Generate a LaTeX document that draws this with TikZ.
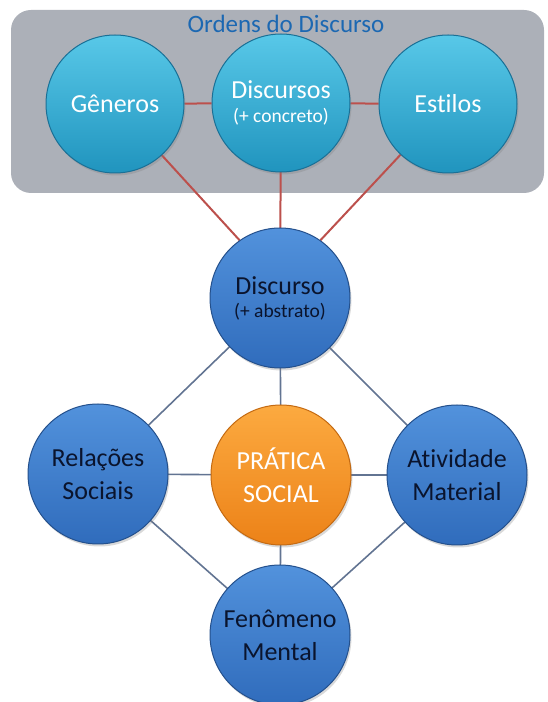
\documentclass[tikz,border=0pt]{standalone}
\usepackage{fontspec}
\setmainfont{Carlito}[Ligatures=NoCommon]
\usetikzlibrary{shadows}
\pgfdeclarelayer{back}
\pgfdeclarelayer{lines}
\pgfsetlayers{back,lines,main}
\definecolor{panelgray}{RGB}{172,176,184}
\definecolor{titleblue}{RGB}{28,104,178}
\definecolor{tealtop}{RGB}{88,200,232}
\definecolor{tealbot}{RGB}{32,148,190}
\definecolor{tealedge}{RGB}{26,112,150}
\definecolor{bluetop}{RGB}{82,146,220}
\definecolor{bluebot}{RGB}{48,108,188}
\definecolor{blueedge}{RGB}{36,80,140}
\definecolor{orangetop}{RGB}{252,170,64}
\definecolor{orangebot}{RGB}{236,130,24}
\definecolor{orangeedge}{RGB}{196,106,18}
\definecolor{redline}{RGB}{188,80,76}
\definecolor{grayline}{RGB}{98,116,146}
\definecolor{darktext}{RGB}{10,20,45}
\tikzset{
  ball/.style={circle, inner sep=0pt, minimum size=140pt, line width=1pt, align=center,
    drop shadow={shadow xshift=1.5pt, shadow yshift=-2.5pt, opacity=0.3}},
  tealball/.style={ball, minimum size=138pt, top color=tealtop, bottom color=tealbot, draw=tealedge, text=white},
  blueball/.style={ball, top color=bluetop, bottom color=bluebot, draw=blueedge, text=darktext},
  orangeball/.style={ball, top color=orangetop, bottom color=orangebot, draw=orangeedge, text=white},
  redconn/.style={draw=redline, line width=2pt},
  grayconn/.style={draw=grayline, line width=1.6pt},
  big/.style={font=\fontsize{26}{33}\selectfont},
  twosize/.style={font=\fontsize{20}{#1}\selectfont},
}
\newcommand{\bigline}[1]{{\fontsize{26}{28}\selectfont #1}}
\newcommand{\smallline}[1]{{\fontsize{19.5}{24}\selectfont #1}}
\begin{document}
\begin{tikzpicture}[x=1pt,y=1pt]
\useasboundingbox (0,0) rectangle (547,702);
% panel
\begin{pgfonlayer}{back}
\node[fill=panelgray, rounded corners=20pt, minimum width=533pt, minimum height=183pt, inner sep=0pt] (panel) at (277.5,600.5) {};
\end{pgfonlayer}
\node[text=titleblue, font=\fontsize{25}{28}\selectfont, anchor=base] (title) at (286,669) {Ordens do Discurso};
% upper circles
\node[tealball, big] (gen) at (115,598) {Gêneros};
\node[tealball, twosize=24] (dcs) at (281,599) {\bigline{Discursos}\\\smallline{(+ concreto)}};
\node[tealball, big] (est) at (448,598) {Estilos};
% lower circles
\node[blueball, twosize=23] (dis) at (280,404) {\bigline{Discurso}\\\smallline{(+ abstrato)}};
\node[blueball, big] (rel) at (98,228) {Relações\\Sociais};
\node[orangeball, big] (pra) at (281,227) {PRÁTICA\\SOCIAL};
\node[blueball, big] (ati) at (457,227) {Atividade\\Material};
\node[blueball, big] (fen) at (280,67) {Fenômeno\\Mental};
% connectors
\begin{pgfonlayer}{lines}
\draw[redconn] (gen) -- (dcs);
\draw[redconn] (dcs) -- (est);
\draw[redconn] (gen.center) -- (dis.125);
\draw[redconn] (dcs.center) -- (dis.center);
\draw[redconn] (est.center) -- (dis.55);
\draw[grayconn] (dis.center) -- (rel.center);
\draw[grayconn] (dis.center) -- (ati.center);
\draw[grayconn] (dis.center) -- (pra.center);
\draw[grayconn] (rel.center) -- (pra.center);
\draw[grayconn] (pra.center) -- (ati.center);
\draw[grayconn] (pra.center) -- (fen.center);
\draw[grayconn] (rel.center) -- (fen.center);
\draw[grayconn] (ati.center) -- (fen.center);
\end{pgfonlayer}
\end{tikzpicture}
\end{document}
